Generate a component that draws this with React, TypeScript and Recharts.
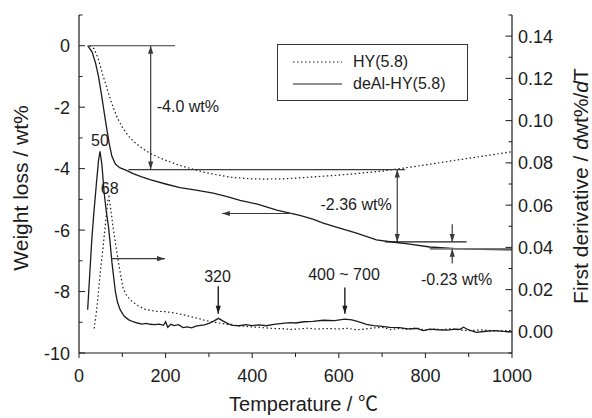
import React from 'react';
import { ComposedChart, Line, XAxis, YAxis, ReferenceLine, ReferenceDot, Legend } from 'recharts';

// ---------- data (temperature °C, value) ----------
const hyWeight: [number, number][] = [
  [25, 0], [35, -0.1], [45, -0.45], [55, -0.95], [65, -1.4], [75, -1.85], [87, -2.3], [100, -2.65],
  [112, -2.9], [125, -3.1], [145, -3.33], [164, -3.5], [185, -3.64], [202, -3.74], [230, -3.88],
  [256, -3.99], [290, -4.12], [318, -4.2], [350, -4.28], [395, -4.33], [430, -4.34], [472, -4.33],
  [510, -4.3], [560, -4.25], [600, -4.21], [641, -4.16], [700, -4.08], [741, -4.0], [800, -3.88],
  [872, -3.72], [940, -3.58], [1000, -3.45],
];

const deAlWeight: [number, number][] = [
  [20, 0], [30, -0.2], [38, -0.55], [45, -1.0], [52, -1.6], [58, -2.15], [64, -2.7], [70, -3.2],
  [76, -3.6], [84, -3.85], [94, -3.97], [108, -4.05], [125, -4.16], [145, -4.27], [164, -4.36],
  [200, -4.5], [233, -4.62], [270, -4.7], [310, -4.8], [340, -4.9], [372, -5.03], [410, -5.15],
  [457, -5.35], [487, -5.45], [510, -5.52], [540, -5.64], [564, -5.77], [600, -5.93], [641, -6.1],
  [687, -6.32], [718, -6.38], [760, -6.45], [810, -6.55], [870, -6.6], [930, -6.63], [1000, -6.64],
];

const hyDeriv: [number, number][] = [
  [35, 0.0016], [40, 0.009], [45, 0.019], [48.5, 0.027], [55, 0.039], [60, 0.049], [64, 0.057],
  [67, 0.063], [69, 0.064], [72, 0.06], [76, 0.054], [79, 0.049], [85, 0.041], [91, 0.033],
  [97, 0.026], [102, 0.0205], [110, 0.0172], [122, 0.0145], [135, 0.0125], [152, 0.0108],
  [165, 0.0101], [180, 0.0097], [199, 0.0096], [215, 0.0091], [230, 0.0086], [245, 0.0079],
  [260, 0.0071], [275, 0.0064], [290, 0.0055], [306, 0.0048], [320, 0.0043], [340, 0.0036],
  [360, 0.0031], [380, 0.0027], [395, 0.0024], [415, 0.0022], [430, 0.0019], [450, 0.0016],
  [470, 0.0015], [490, 0.0012], [510, 0.0014], [530, 0.0018], [550, 0.0013], [570, 0.0016],
  [600, 0.0014], [620, 0.0017], [640, 0.001], [660, 0.0013], [680, 0.0019], [700, 0.0021],
  [720, 0.0011], [740, 0.0016], [760, 0.0012], [780, 0.0019], [800, 0.0008], [820, 0.0013],
  [840, 0.0011], [860, 0.0015], [880, 0.0009], [900, 0.0006], [930, 0.0009], [960, 0.0005],
  [1000, 0.0006],
];

const deAlDeriv: [number, number][] = [
  [20, 0.0105], [25, 0.028], [30, 0.045], [35, 0.058], [41, 0.072], [45, 0.081], [48.5, 0.0855],
  [53, 0.079], [58, 0.066], [63, 0.057], [68, 0.05], [72, 0.042], [76, 0.033], [80, 0.026],
  [84, 0.019], [89, 0.014], [95, 0.0105], [104, 0.0075], [114, 0.0058], [125, 0.0048],
  [135, 0.0042], [145, 0.0037], [155, 0.004], [165, 0.0036], [175, 0.0034], [185, 0.0037],
  [195, 0.0031], [200, 0.0048], [205, 0.0022], [212, 0.0036], [220, 0.003], [230, 0.0034],
  [240, 0.002], [250, 0.0024], [260, 0.0019], [270, 0.0027], [280, 0.0031], [290, 0.0033],
  [300, 0.004], [312, 0.0052], [322, 0.0064], [332, 0.0052], [345, 0.0038], [356, 0.0031],
  [370, 0.0029], [385, 0.0034], [400, 0.003], [415, 0.0033], [433, 0.0029], [450, 0.0036],
  [470, 0.004], [487, 0.0044], [500, 0.0042], [520, 0.0048], [540, 0.005], [564, 0.0055],
  [590, 0.0053], [614, 0.006], [630, 0.0057], [645, 0.0049], [664, 0.0036], [680, 0.003],
  [700, 0.0026], [718, 0.0021], [740, 0.002], [760, 0.0014], [780, 0.0016], [795, 0.0006],
  [810, 0.0013], [830, 0.001], [850, 0.0008], [870, 0.0013], [880, 0.0012], [888, 0.0022],
  [900, 0.0009], [918, -0.0002], [940, 0.0003], [960, 0.0006], [980, 0.0002], [1000, 0.0001],
];

const seriesNames = ['HY(5.8)', 'deAl-HY(5.8)'];

const xTicks = [0, 100, 200, 300, 400, 500, 600, 700, 800, 900, 1000];
const xLabelTicks = [0, 200, 400, 600, 800, 1000];
const leftTicks = [-10, -9, -8, -7, -6, -5, -4, -3, -2, -1, 0, 1];
const leftLabelTicks = [-10, -8, -6, -4, -2, 0];
const rightTicks = [-0.01, 0, 0.01, 0.02, 0.03, 0.04, 0.05, 0.06, 0.07, 0.08, 0.09, 0.1, 0.11, 0.12, 0.13, 0.14, 0.15];
const rightLabelTicks = [0, 0.02, 0.04, 0.06, 0.08, 0.1, 0.12, 0.14];

const toRows = (arr: [number, number][]) => arr.map(([t, v]) => ({ t, v }));

// ---------- styles ----------
const FONT = '"Liberation Sans", Arial, Helvetica, sans-serif';
const INK = '#1c1c1c';
const ANN = '#3a3a3a';

const isIn = (list: number[], v: number) => list.some((m) => Math.abs(m - v) < 1e-9);

const BottomTick = (p: any) => {
  const { x, y, payload } = p;
  const v = payload.value;
  const major = isIn(xLabelTicks, v);
  return (
    <g>
      <line x1={x} y1={y} x2={x} y2={y + (major ? 5 : 4)} stroke={INK} strokeWidth={1} />
      {major && (
        <text x={x} y={y + 29} textAnchor="middle" fontSize={18} fill={INK} fontFamily={FONT}>
          {v}
        </text>
      )}
    </g>
  );
};

const TopTick = (p: any) => {
  const { x, y } = p;
  return <line x1={x} y1={y} x2={x} y2={y - 2} stroke={INK} strokeWidth={1} />;
};

const LeftTick = (p: any) => {
  const { x, y, payload } = p;
  const v = payload.value;
  const major = isIn(leftLabelTicks, v);
  return (
    <g>
      <line x1={x} y1={y} x2={x + (major ? 6 : 3.5)} y2={y} stroke={INK} strokeWidth={1} />
      {major && (
        <text x={x - 9} y={y + 6.5} textAnchor="end" fontSize={18} fill={INK} fontFamily={FONT}>
          {v}
        </text>
      )}
    </g>
  );
};

const RightTick = (p: any) => {
  const { x, y, payload } = p;
  const v = payload.value;
  const major = isIn(rightLabelTicks, v);
  return (
    <g>
      <line x1={x} y1={y} x2={x - (major ? 6.5 : 3.5)} y2={y} stroke={INK} strokeWidth={1} />
      {major && (
        <text x={x + 6} y={y + 6.5} textAnchor="start" fontSize={18} fill={INK} fontFamily={FONT}>
          {v.toFixed(2)}
        </text>
      )}
    </g>
  );
};

const arrowShape = (start: boolean, end: boolean, color = ANN, width = 1.2) => (p: any) => {
  const { x1, y1, x2, y2 } = p;
  const dx = x2 - x1;
  const dy = y2 - y1;
  const len = Math.hypot(dx, dy) || 1;
  const ux = dx / len;
  const uy = dy / len;
  const head = (tx: number, ty: number, ax: number, ay: number) => {
    const L = 8;
    const W = 2.6;
    const bx = tx - ax * L;
    const by = ty - ay * L;
    return `${tx},${ty} ${bx - ay * W},${by + ax * W} ${bx + ay * W},${by - ax * W}`;
  };
  return (
    <g>
      <line x1={x1} y1={y1} x2={x2} y2={y2} stroke={color} strokeWidth={width} />
      {end && <polygon points={head(x2, y2, ux, uy)} fill={color} />}
      {start && <polygon points={head(x1, y1, -ux, -uy)} fill={color} />}
    </g>
  );
};

const textShape = (txt: string, anchor: 'start' | 'middle' | 'end' = 'middle', size = 16) => (p: any) => (
  <text x={p.cx} y={p.cy} textAnchor={anchor} fontSize={size} fill={INK} fontFamily={FONT}>
    {txt}
  </text>
);

const LegendBox = (props: any) => {
  const items: any[] = (props.payload || []).filter((it: any) => seriesNames.includes(it.value));
  return (
    <div
      style={{
        width: 191,
        height: 57,
        boxSizing: 'border-box',
        border: '1px solid #333',
        background: '#fff',
        position: 'relative',
        fontFamily: FONT,
      }}
    >
      {items.map((it, i) => {
        const dashed = it.payload && it.payload.strokeDasharray;
        return (
          <div
            key={i}
            style={{ position: 'absolute', left: 0, top: 6 + i * 21.6, height: 22, display: 'flex', alignItems: 'center' }}
          >
            <svg width={75} height={22} style={{ display: 'block' }}>
              <line
                x1={15}
                x2={64}
                y1={11}
                y2={11}
                stroke={INK}
                strokeWidth={1.2}
                strokeDasharray={dashed ? '1.5 2.5' : undefined}
              />
            </svg>
            <span style={{ fontSize: 16, color: INK, lineHeight: '22px' }}>{it.value}</span>
          </div>
        );
      })}
    </div>
  );
};

const leftTitle = (p: any) => {
  const vb = p.viewBox || { x: 5, y: 15, width: 74, height: 338 };
  const cx = vb.x + 15;
  const cy = vb.y + vb.height / 2 + 4;
  return (
    <text
      x={cx}
      y={cy}
      transform={`rotate(-90 ${cx} ${cy})`}
      textAnchor="middle"
      dominantBaseline="central"
      fontSize={21}
      fill={INK}
      fontFamily={FONT}
    >
      Weight loss / wt%
    </text>
  );
};

const rightTitle = (p: any) => {
  const vb = p.viewBox || { x: 512, y: 15, width: 70, height: 338 };
  const cx = vb.x + 68;
  const cy = vb.y + vb.height / 2 + 2;
  return (
    <text
      x={cx}
      y={cy}
      transform={`rotate(-90 ${cx} ${cy})`}
      textAnchor="middle"
      dominantBaseline="central"
      fontSize={21}
      fill={INK}
      fontFamily={FONT}
    >
      First derivative / <tspan fontStyle="italic">d</tspan>wt%/<tspan fontStyle="italic">d</tspan>T
    </text>
  );
};

const bottomTitle = (p: any) => {
  const vb = p.viewBox || { x: 79, y: 353, width: 433, height: 60 };
  return (
    <text
      x={vb.x + vb.width / 2 + 8}
      y={vb.y + 58}
      textAnchor="middle"
      fontSize={20}
      fill={INK}
      fontFamily={FONT}
    >
      Temperature / <tspan fontFamily='"Noto Sans CJK SC", "DejaVu Sans", sans-serif'>℃</tspan>
    </text>
  );
};

export default function App() {
  const ax = { xAxisId: 'bottom', yAxisId: 'left' } as const;
  return (
    <div style={{ position: 'absolute', left: 0, top: 0, width: 592, height: 418, background: '#fff' }}>
      <ComposedChart width={592} height={418} margin={{ top: 15, right: 10, bottom: 5, left: 5 }}>
        <XAxis
          xAxisId="bottom"
          type="number"
          dataKey="t"
          domain={[0, 1000]}
          allowDataOverflow
          ticks={xTicks}
          interval={0}
          tickSize={0}
          tickMargin={0}
          tick={BottomTick}
          height={60}
          axisLine={{ stroke: INK, strokeWidth: 1.2 }}
          label={{ content: bottomTitle }}
        />
        <XAxis
          xAxisId="top"
          orientation="top"
          type="number"
          dataKey="t"
          domain={[0, 1000]}
          allowDataOverflow
          ticks={xTicks}
          interval={0}
          tickSize={0}
          tickMargin={0}
          tick={TopTick}
          height={0}
          axisLine={{ stroke: INK, strokeWidth: 1.2 }}
        />
        <YAxis
          yAxisId="left"
          type="number"
          domain={[-10, 1]}
          allowDataOverflow
          ticks={leftTicks}
          interval={0}
          tickSize={0}
          tickMargin={0}
          tick={LeftTick}
          width={74}
          axisLine={{ stroke: INK, strokeWidth: 1.2 }}
          label={{ content: leftTitle }}
        />
        <YAxis
          yAxisId="right"
          orientation="right"
          type="number"
          domain={[-0.01, 0.15]}
          allowDataOverflow
          ticks={rightTicks}
          interval={0}
          tickSize={0}
          tickMargin={0}
          tick={RightTick}
          width={70}
          axisLine={{ stroke: INK, strokeWidth: 1.2 }}
          label={{ content: rightTitle }}
        />

        <Line
          xAxisId="bottom"
          yAxisId="left"
          data={toRows(hyWeight)}
          dataKey="v"
          name={seriesNames[0]}
          type="linear"
          stroke={INK}
          strokeWidth={1.2}
          strokeDasharray="1.5 2.5"
          dot={false}
          activeDot={false}
          isAnimationActive={false}
        />
        <Line
          xAxisId="bottom"
          yAxisId="left"
          data={toRows(deAlWeight)}
          dataKey="v"
          name={seriesNames[1]}
          type="linear"
          stroke={INK}
          strokeWidth={1.3}
          dot={false}
          activeDot={false}
          isAnimationActive={false}
        />
        <Line
          xAxisId="bottom"
          yAxisId="right"
          data={toRows(hyDeriv)}
          dataKey="v"
          name="hy-deriv"
          legendType="none"
          type="linear"
          stroke={INK}
          strokeWidth={1.2}
          strokeDasharray="1.5 2.5"
          dot={false}
          activeDot={false}
          isAnimationActive={false}
        />
        <Line
          xAxisId="bottom"
          yAxisId="right"
          data={toRows(deAlDeriv)}
          dataKey="v"
          name="deal-deriv"
          legendType="none"
          type="linear"
          stroke={INK}
          strokeWidth={1.3}
          dot={false}
          activeDot={false}
          isAnimationActive={false}
        />

        {/* -4.0 wt% */}
        <ReferenceLine {...ax} segment={[{ x: 22, y: 0 }, { x: 222, y: 0 }]} shape={arrowShape(false, false)} />
        <ReferenceLine {...ax} segment={[{ x: 165.5, y: 0 }, { x: 165.5, y: -4.03 }]} shape={arrowShape(true, true)} />
        <ReferenceLine {...ax} segment={[{ x: 114, y: -4.03 }, { x: 753, y: -4.03 }]} shape={arrowShape(false, false)} />
        {/* -2.36 wt% */}
        <ReferenceLine {...ax} segment={[{ x: 735, y: -4.03 }, { x: 735, y: -6.385 }]} shape={arrowShape(true, true)} />
        <ReferenceLine {...ax} segment={[{ x: 707, y: -6.385 }, { x: 895, y: -6.385 }]} shape={arrowShape(false, false, INK)} />
        {/* -0.23 wt% */}
        <ReferenceLine {...ax} segment={[{ x: 810, y: -6.61 }, { x: 1000, y: -6.61 }]} shape={arrowShape(false, false, '#777', 1.6)} />
        <ReferenceLine {...ax} segment={[{ x: 862, y: -5.81 }, { x: 862, y: -6.385 }]} shape={arrowShape(false, true)} />
        <ReferenceLine {...ax} segment={[{ x: 862, y: -7.09 }, { x: 862, y: -6.61 }]} shape={arrowShape(false, true)} />
        {/* axis indicator arrows */}
        <ReferenceLine {...ax} segment={[{ x: 497, y: -5.46 }, { x: 330, y: -5.46 }]} shape={arrowShape(false, true)} />
        <ReferenceLine {...ax} segment={[{ x: 75.5, y: -6.93 }, { x: 198.6, y: -6.93 }]} shape={arrowShape(false, true)} />
        {/* peak arrows */}
        <ReferenceLine {...ax} segment={[{ x: 321.6, y: -7.83 }, { x: 321.6, y: -8.72 }]} shape={arrowShape(false, true, INK, 1.4)} />
        <ReferenceLine {...ax} segment={[{ x: 614, y: -7.87 }, { x: 614, y: -8.72 }]} shape={arrowShape(false, true, INK, 1.4)} />

        <ReferenceDot {...ax} x={179.5} y={-2.15} r={1} shape={textShape('-4.0 wt%', 'start')} />
        <ReferenceDot {...ax} x={722} y={-5.35} r={1} shape={textShape('-2.36 wt%', 'end')} />
        <ReferenceDot {...ax} x={872} y={-7.8} r={1} shape={textShape('-0.23 wt%', 'middle')} />
        <ReferenceDot {...ax} x={320} y={-7.69} r={1} shape={textShape('320', 'middle')} />
        <ReferenceDot {...ax} x={612} y={-7.63} r={1} shape={textShape('400 ~ 700', 'middle')} />
        <ReferenceDot {...ax} x={48.5} y={-3.27} r={1} shape={textShape('50', 'middle')} />
        <ReferenceDot {...ax} x={71} y={-4.81} r={1} shape={textShape('68', 'middle')} />

        <Legend
          content={LegendBox}
          layout="vertical"
          align="center"
          verticalAlign="middle"
          width={191}
          height={57}
          wrapperStyle={{ left: 277, top: 44, width: 191, height: 57 }}
        />
      </ComposedChart>
    </div>
  );
}
